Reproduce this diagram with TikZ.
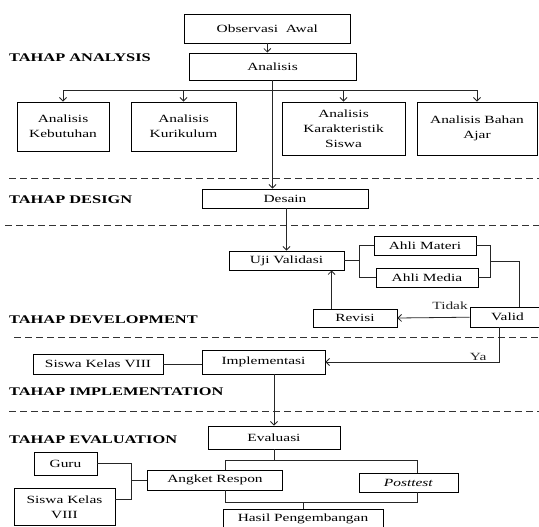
\documentclass[tikz,border=0pt]{standalone}
\usepackage{fontspec}
\setmainfont{Liberation Serif}[FakeStretch=1.4]
\usepackage{tikz}
\usetikzlibrary{arrows.meta, positioning, calc}

\begin{document}
\begin{tikzpicture}[
      x=1pt, y=-1pt,
      >={Straight Barb[length=3.5pt,width=7pt]},
      font=\fontsize{11}{15}\selectfont,
      box/.style={draw, line width=0.9pt, inner sep=0pt, align=center},
      stage/.style={anchor=west, inner sep=0pt, font=\fontsize{11.7}{13}\selectfont\bfseries},
      lin/.style={line width=0.8pt, black!85},
      arr/.style={->, line width=0.8pt, black!85},
      sep/.style={line width=0.8pt, black!80, dash pattern=on 7pt off 4pt}
    ]
    \useasboundingbox (0,0) rectangle (539,527);

    % --- Stage separators ---
    \foreach \yy/\xx in {178/9, 225/5, 337/14, 411.5/9}
      \draw[sep] (\xx,\yy) -- (539,\yy);

    % --- Stage labels ---
    \node[stage] (lanalysis) at (9,58)    {TAHAP ANALYSIS};
    \node[stage] (ldesign)   at (9,200)   {TAHAP DESIGN};
    \node[stage] (ldevelop)  at (9,320)   {TAHAP DEVELOPMENT};
    \node[stage] (limplem)   at (9,391.5) {TAHAP IMPLEMENTATION};
    \node[stage] (leval)     at (9,440)   {TAHAP EVALUATION};

    % --- Analysis ---
    \node[box, minimum width=166.5pt, minimum height=28.6pt] (obs) at (267.3,28.7) {Observasi\ \ Awal};
    \node[box, minimum width=167pt, minimum height=27pt] (ana) at (272.5,66.5) {Analisis};
    \node[box, minimum width=92pt, minimum height=49pt]  (keb) at (63,126.5)  {Analisis\\Kebutuhan};
    \node[box, minimum width=105pt, minimum height=49pt] (kur) at (183.5,126.5) {Analisis\\Kurikulum};
    \node[box, minimum width=123pt, minimum height=53pt] (kar) at (343.5,128.5) {Analisis\\Karakteristik\\Siswa};
    \node[box, minimum width=120pt, minimum height=53pt] (bah) at (477,128.5) {Analisis Bahan\\Ajar};

    % --- Design ---
    \node[box, minimum width=166pt, minimum height=19pt] (desain) at (285,198.5) {Desain};

    % --- Development ---
    \node[box, minimum width=115pt, minimum height=19pt] (uji)    at (286.5,260.5) {Uji Validasi};
    \node[box, minimum width=102pt, minimum height=19pt] (materi) at (425,245.5)   {Ahli Materi};
    \node[box, minimum width=102pt, minimum height=19pt] (media)  at (427,277.5)   {Ahli Media};
    \node[box, minimum width=84pt, minimum height=18pt]  (revisi) at (355,318)     {Revisi};
    \node[box, minimum width=75pt, minimum height=19.5pt] (valid) at (507.5,317.2) {Valid};

    % --- Implementation ---
    \node[box, minimum width=123pt, minimum height=24pt] (impl)   at (263.5,362) {Implementasi};
    \node[box, minimum width=130pt, minimum height=20pt] (siswaa) at (98,364)    {Siswa Kelas VIII};

    % --- Evaluation ---
    \node[box, minimum width=132pt, minimum height=23pt]   (eval)   at (274,437.5) {Evaluasi};
    \node[box, minimum width=134.5pt, minimum height=19.4pt] (angket) at (215,480.3) {Angket Respon};
    \node[box, minimum width=99pt, minimum height=19pt]    (post)   at (408.5,482.5) {\textit{Posttest}};
    \node[box, minimum width=63pt, minimum height=23pt]    (guru)   at (65.5,463.5) {Guru};
    \node[box, minimum width=101pt, minimum height=37.6pt] (siswab) at (64.5,506.8) {Siswa Kelas\\VIII};
    \node[box, minimum width=160pt, minimum height=20pt]   (hasil)  at (303,519) {Hasil Pengembangan};

    % --- Connectors: analysis ---
    \draw[arr] (obs.south) -- (obs.south |- ana.north);
    \draw[arr] (ana.south) -- (ana.south |- desain.north);
    \coordinate (split) at ($(ana.south)+(0,10)$);
    \draw[arr] (split) -| (keb.north);
    \draw[arr] (split) -| (kur.north);
    \draw[arr] (split) -| (kar.north);
    \draw[arr] (split) -| (bah.north);

    % --- Connectors: design / development ---
    \draw[arr] (uji.north |- desain.south) -- (uji.north);
    \draw[lin] (uji.east) -- ++(15,0) coordinate (ujx);
    \draw[lin] (materi.west) -| (ujx);
    \draw[lin] (media.west) -| (ujx);
    \draw[lin] (materi.east) -- ++(14,0) coordinate (mr) |- (media.east);
    \draw[lin] ($(mr)!0.5!(mr |- media.east)$) -| ([xshift=11.5pt]valid.north);
    \draw[arr] (valid.west) -- node[pos=0.27, above=7pt, inner sep=0pt] (tidak) {Tidak} (revisi.west -| revisi.east);
    \draw[arr] ([xshift=19pt]revisi.north west) -- ([xshift=19pt]revisi.north west |- uji.south);

    % --- Connectors: implementation ---
    \draw[arr] ([xshift=-8.5pt]valid.south) |- node[pos=0.56, above=1pt, inner sep=0pt] (ya) {Ya} (impl.east);
    \draw[lin] (siswaa.east) -- (siswaa.east -| impl.west);
    \draw[arr] (eval.north |- impl.south) -- (eval.north);

    % --- Connectors: evaluation ---
    \draw[lin] (eval.south) -- ++(0,11) coordinate (es);
    \draw[lin] (es) -| ([xshift=10pt]angket.north);
    \draw[lin] (es) -| ([xshift=9pt]post.north);
    \draw[lin] ([xshift=10pt]angket.south) -- ++(0,12) coordinate (aj) -| ([xshift=9pt]post.south);
    \draw[lin] (aj -| hasil.north) -- (hasil.north);
    \draw[lin] (guru.east) -- ++(33.6,0) coordinate (gb) -- ++(0,35.5) -- ([yshift=7.8pt]siswab.east);
    \draw[lin] (gb |- angket.west) -- (angket.west);

  \end{tikzpicture}
\end{document}
